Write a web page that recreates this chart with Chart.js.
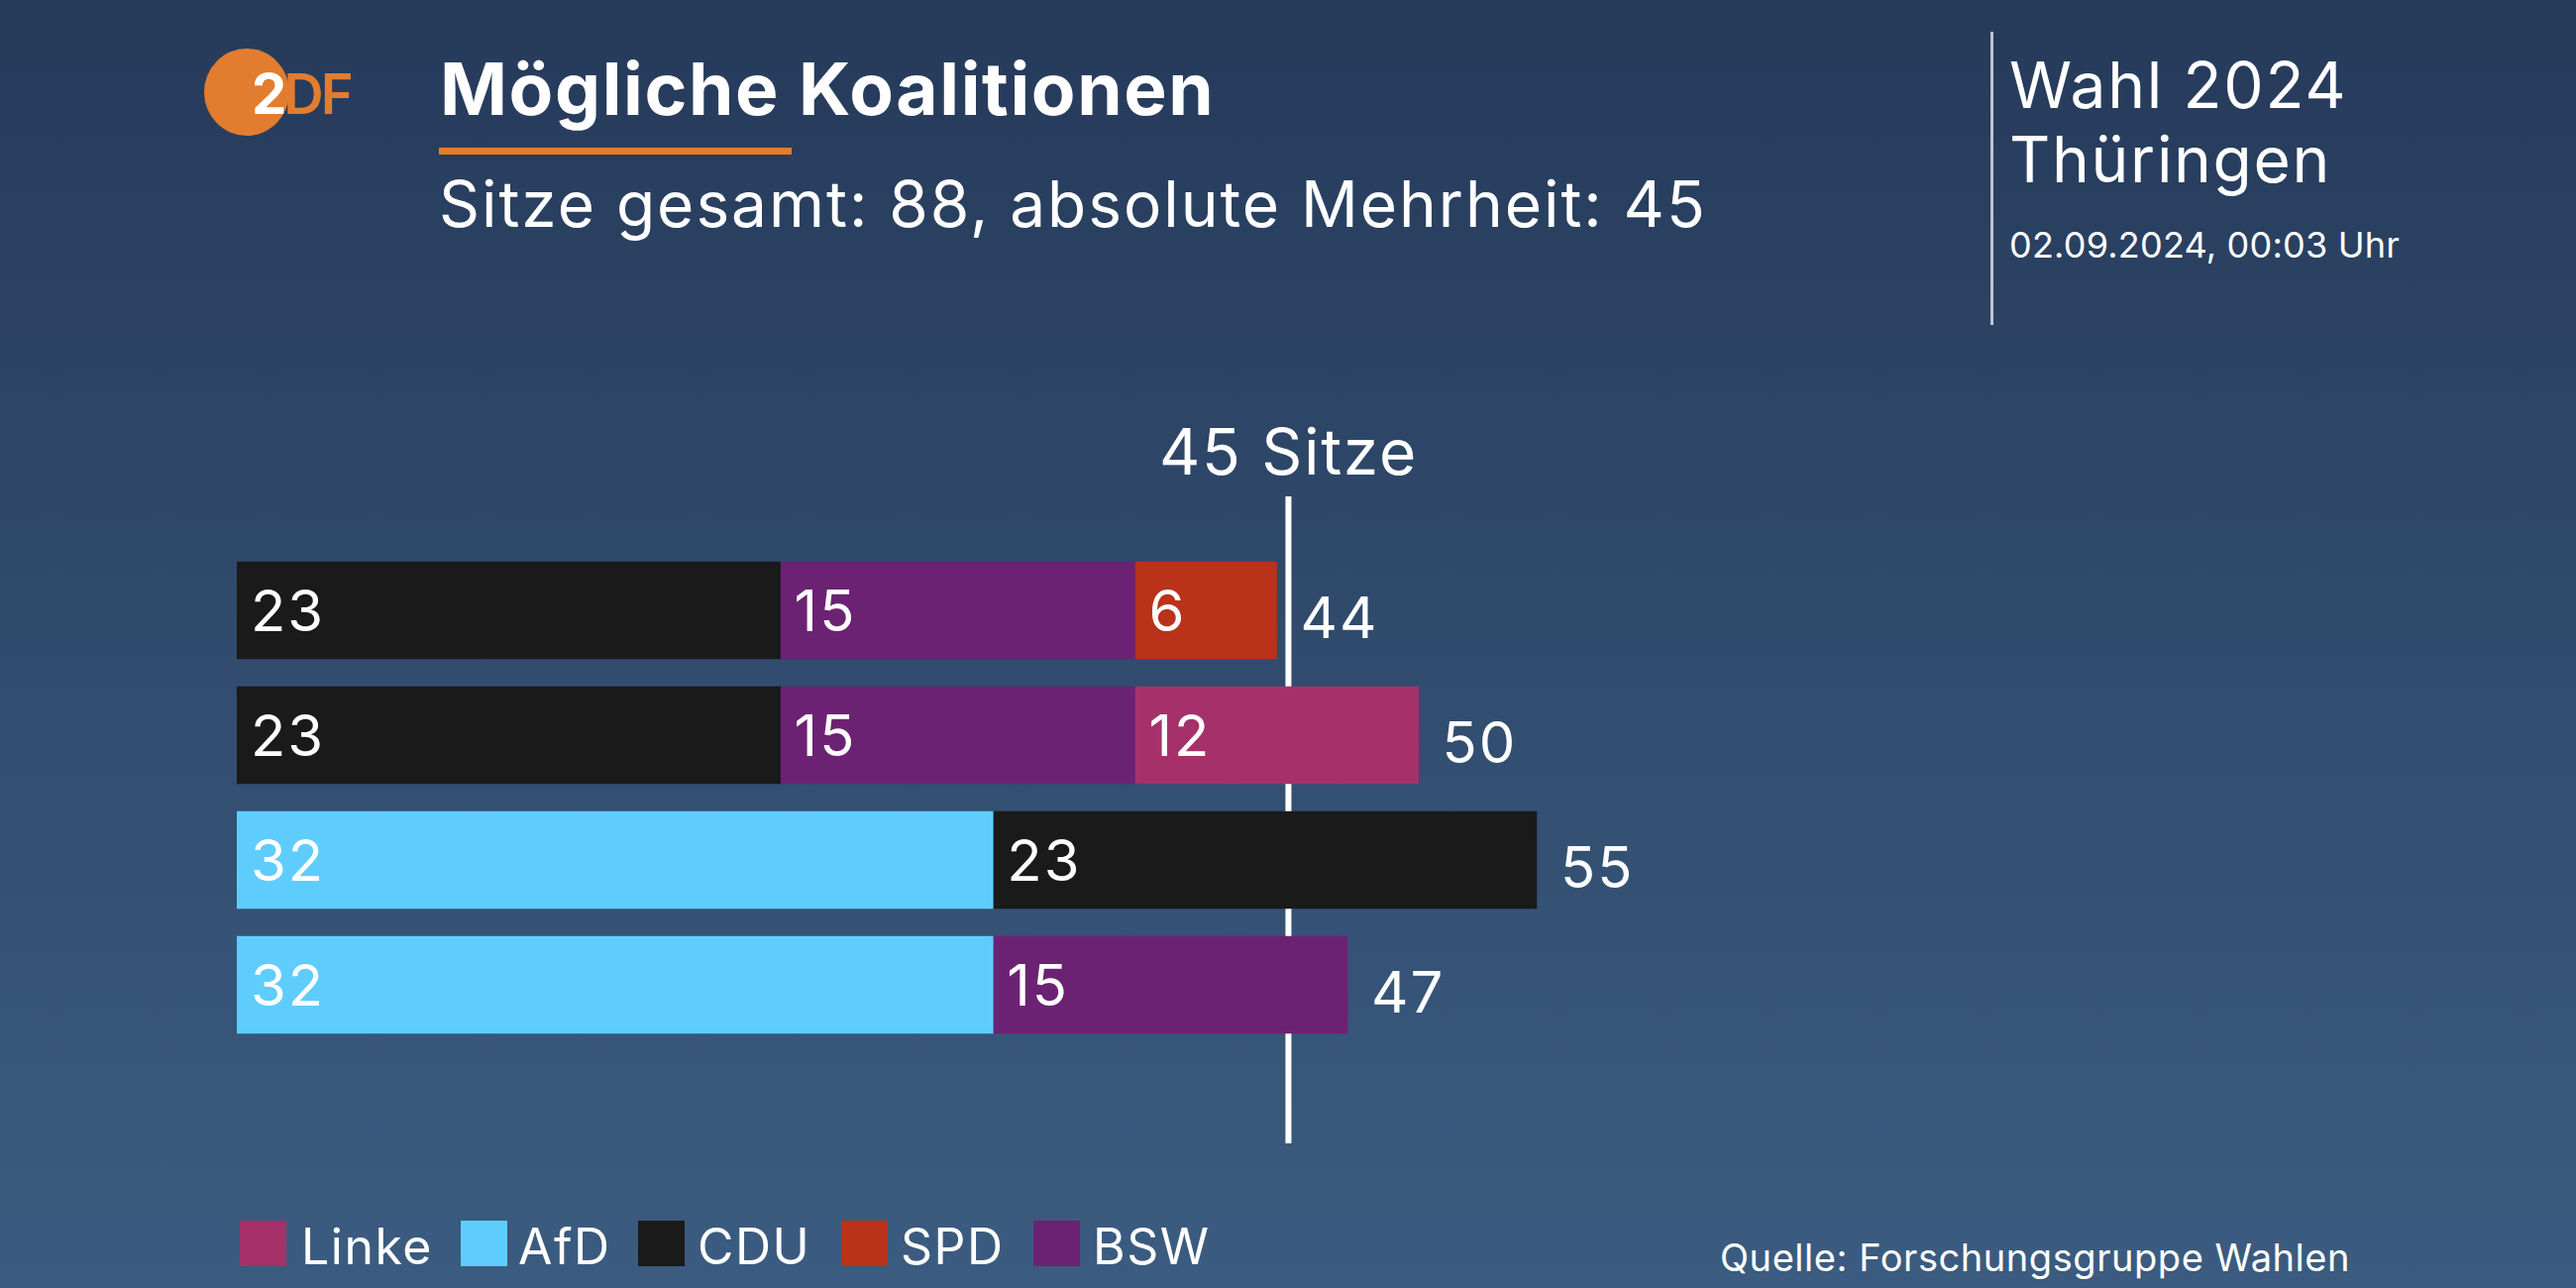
<!DOCTYPE html>
<html lang="de">
<head>
<meta charset="utf-8">
<title>Mögliche Koalitionen</title>
<script src="https://cdn.jsdelivr.net/npm/chart.js@4"></script>
<style>
  html, body { margin: 0; padding: 0; }
  body {
    width: 2600px; height: 1300px; position: relative; overflow: hidden;
    background: linear-gradient(180deg, #263a5a 0%, #3b5c80 100%);
    font-family: Inter, "Noto Sans", sans-serif; color: #fff;
  }
  canvas { position: absolute; left: 0; top: 0; }
  .txt { position: absolute; line-height: 1; white-space: nowrap; }
  .logo { position: absolute; left: 206px; top: 49px; width: 86px; height: 88px; border-radius: 50%; background: #e27c2f; }
  .logo-text { position: absolute; left: 254px; top: 67px; font-size: 56px; line-height: 1; font-weight: 600; letter-spacing: -3px; color: #e27c2f; }
  .logo-text b { color: #fff; font-weight: 700; }
  .rule { position: absolute; left: 443px; top: 149px; width: 356px; height: 7px; background: #e27c2f; }
  .divider { position: absolute; left: 2009px; top: 32px; width: 3px; height: 296px; background: rgba(255,255,255,.7); }
  .swatch { position: absolute; top: 1232px; width: 47px; height: 46px; }
</style>
</head>
<body>
<div class="logo"></div>
<div class="logo-text"><b>2</b>DF</div>
<div class="txt" style="left:444px;top:53px;font-size:73px;font-weight:700;letter-spacing:1.6px">Mögliche Koalitionen</div>
<div class="rule"></div>
<div class="txt" style="left:443px;top:174px;font-size:64px;letter-spacing:1.95px">Sitze gesamt: 88, absolute Mehrheit: 45</div>
<div class="divider"></div>
<div class="txt" style="left:2028px;top:54px;font-size:64px;letter-spacing:1.7px">Wahl 2024</div>
<div class="txt" style="left:2028px;top:129px;font-size:64px;letter-spacing:1.7px">Thüringen</div>
<div class="txt" style="left:2028px;top:229px;font-size:36px;letter-spacing:.2px">02.09.2024, 00:03 Uhr</div>
<div class="txt" style="left:1736px;top:1250px;font-size:38px;letter-spacing:.55px">Quelle: Forschungsgruppe Wahlen</div>
<div id="legend"></div>
<canvas id="chart" width="2600" height="1300"></canvas>
<script>
const coalitions = ["CDU, BSW, SPD", "CDU, BSW, Linke", "AfD, CDU", "AfD, BSW"];
const afdSeats = [null, null, 32, 32];
const cduSeats = [23, 23, 23, null];
const bswSeats = [15, 15, null, 15];
const spdSeats = [6, null, null, null];
const linkeSeats = [null, 12, null, null];

const majorityLabel = "45 Sitze";
const majorityLinePos = 44.5; // line sits between 44 and 45 in the original

const colors = { Linke: "#a6316a", AfD: "#5ecdfd", CDU: "#1a1a1a", SPD: "#b93219", BSW: "#6c2273" };
const legendOrder = ["Linke", "AfD", "CDU", "SPD", "BSW"];
const legendSwatchX = [242, 465, 644, 849, 1043];
const legendTextX = [304, 523, 704, 909, 1103];

const fontFamily = 'Inter, "Noto Sans", sans-serif';

// Legend
const legend = document.querySelector("#legend");
legendOrder.forEach((name, i) => {
  legend.innerHTML += `<div class="swatch" style="left:${legendSwatchX[i]}px;background:${colors[name]}"></div>`;
  legend.innerHTML += `<div class="txt" style="left:${legendTextX[i]}px;top:1233px;font-size:50px;letter-spacing:1.5px">${name}</div>`;
});
// End Legend

// Vertical marker behind the bars
const majorityLine = {
  id: "majorityLine",
  beforeDatasetsDraw(chart) {
    const ctx = chart.ctx;
    const x = chart.scales.x.getPixelForValue(majorityLinePos);
    ctx.save();
    ctx.fillStyle = "#fff";
    ctx.fillRect(x - 3, 501, 6, 653);
    ctx.font = `64px ${fontFamily}`;
    ctx.letterSpacing = "1.7px";
    ctx.textAlign = "center";
    ctx.textBaseline = "alphabetic";
    ctx.fillText(majorityLabel, x, 479);
    ctx.restore();
  },
};

// Value labels in the bars, total behind each bar
const barLabels = {
  id: "barLabels",
  afterDatasetsDraw(chart) {
    const ctx = chart.ctx;
    ctx.save();
    ctx.fillStyle = "#fff";
    ctx.font = `58px ${fontFamily}`;
    ctx.letterSpacing = "2px";
    ctx.textBaseline = "middle";
    ctx.textAlign = "left";
    const totals = coalitions.map(() => ({ sum: 0, end: 0, y: 0 }));
    chart.data.datasets.forEach((dataset, d) => {
      chart.getDatasetMeta(d).data.forEach((bar, i) => {
        const value = dataset.data[i];
        if (value === null) return;
        ctx.fillText(value, bar.base + 14, bar.y + 4);
        totals[i].sum += value;
        totals[i].end = Math.max(totals[i].end, bar.x);
        totals[i].y = bar.y;
      });
    });
    totals.forEach((total) => {
      ctx.fillText(total.sum, total.end + 24, total.y + 11);
    });
    ctx.restore();
  },
};

const makeDataset = (label, data) => ({
  label: label,
  data: data,
  backgroundColor: colors[label],
  borderWidth: 0,
  barThickness: 98,
});

new Chart(document.querySelector("#chart"), {
  type: "bar",
  data: {
    labels: coalitions,
    datasets: [
      makeDataset("AfD", afdSeats),
      makeDataset("CDU", cduSeats),
      makeDataset("BSW", bswSeats),
      makeDataset("SPD", spdSeats),
      makeDataset("Linke", linkeSeats),
    ],
  },
  options: {
    indexAxis: "y",
    responsive: false,
    animation: false,
    devicePixelRatio: 1,
    layout: { padding: { left: 239, right: 262, top: 553, bottom: 243 } },
    scales: {
      x: { stacked: true, min: 0, max: 88, display: false },
      y: { stacked: true, display: false },
    },
    plugins: {
      legend: { display: false },
      tooltip: { enabled: false },
    },
  },
  plugins: [majorityLine, barLabels],
});
</script>
</body>
</html>
